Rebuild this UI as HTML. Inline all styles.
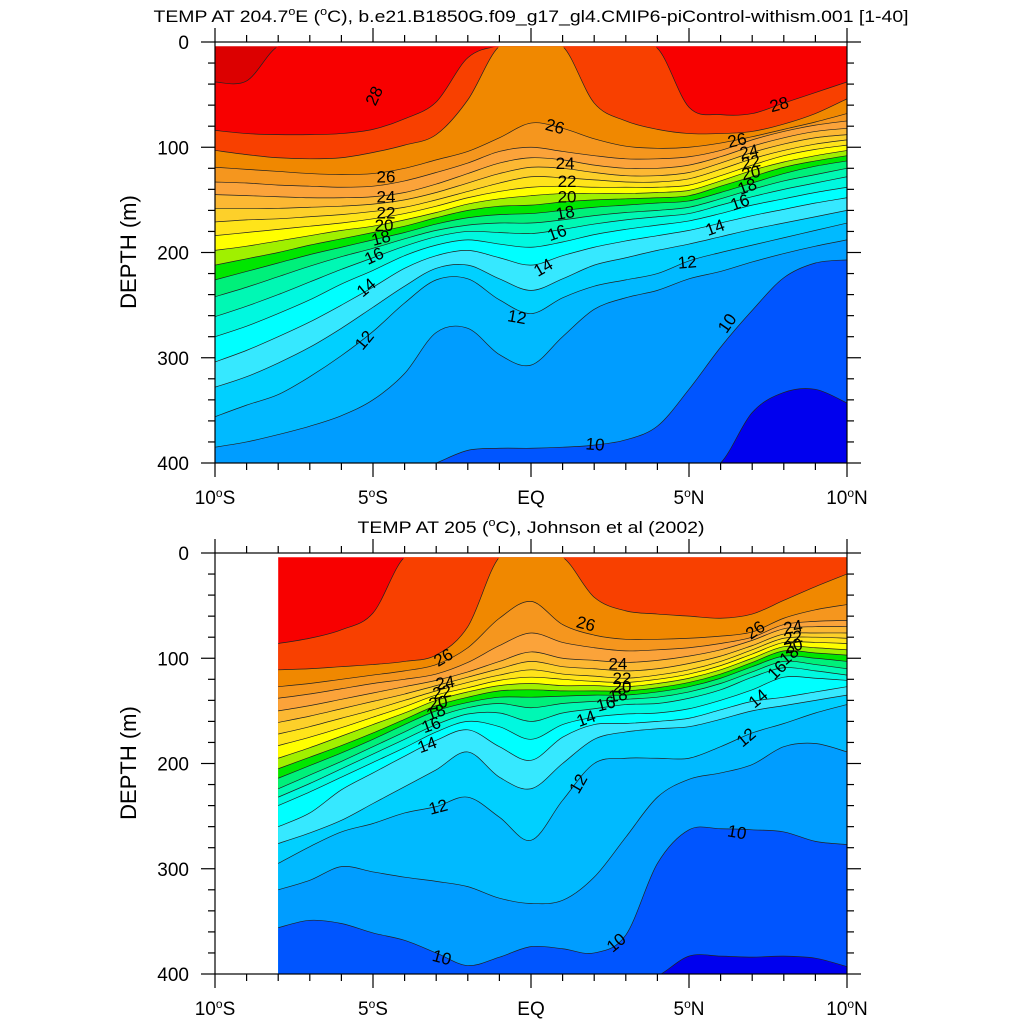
<!DOCTYPE html>
<html><head><meta charset="utf-8">
<style>
body{margin:0;background:#fff}
svg{display:block}
text{font-family:"Liberation Sans",sans-serif;fill:#000}
</style></head>
<body>
<svg id="chart" width="1024" height="1024" xmlns="http://www.w3.org/2000/svg">
  <defs>
    <clipPath id="clipTopFill"><rect x="215" y="46.2" width="632" height="416.8"/></clipPath>
    <clipPath id="clipTopLine"><rect x="215" y="47.6" width="632" height="415.4"/></clipPath>
    <clipPath id="clipBotFill"><rect x="277.2" y="557.2" width="569.8" height="416.8"/></clipPath>
    <clipPath id="clipBotLine"><rect x="277.2" y="558.6" width="569.8" height="415.4"/></clipPath>
  </defs>
  <text x="531" y="22" font-size="17" text-anchor="middle" textLength="755" lengthAdjust="spacingAndGlyphs">TEMP AT 204.7<tspan font-size="11" dy="-7">o</tspan><tspan dy="7">E (</tspan><tspan font-size="11" dy="-7">o</tspan><tspan dy="7">C), b.e21.B1850G.f09_g17_gl4.CMIP6-piControl-withism.001 [1-40]</tspan></text>
  <text x="531" y="533" font-size="17" text-anchor="middle" textLength="347" lengthAdjust="spacingAndGlyphs">TEMP AT 205 (<tspan font-size="11" dy="-7">o</tspan><tspan dy="7">C), Johnson et al (2002)</tspan></text>
  <text transform="translate(136,252) rotate(-90)" font-size="22" text-anchor="middle">DEPTH (m)</text>
  <text transform="translate(136,763) rotate(-90)" font-size="22" text-anchor="middle">DEPTH (m)</text>
  <g id="topPanel"></g>
  <g id="botPanel"></g>
</svg>
<script>
// ---------- data ----------
const topLats = [-10,-9,-8,-7,-6,-5,-4,-3,-2,-1,0,1,2,3,4,5,6,7,8,9,10];
const botLats = [-8,-7,-6,-5,-4,-3,-2,-1,0,1,2,3,4,5,6,7,8,9,10];
const topLevels = [29,28,27,26,25,24,23,22,21,20,19,18,17,16,15,14,13,12,11,10,9];
const botLevels = [28,27,26,25,24,23,22,21,20,19,18,17,16,15,14,13,12,11,10,9];

// isotherm depths (m), top panel (model), lat -10..10
const top29 = [38,37,4,4,4,4,4,4,4,4,4,4,4,4,4,4,4,4,4,4,4];
const top28 = [84,87,88,88,87,83,73,57,15,4,4,4,4,4,6,62,69,68,58,48,38];
const top27 = [103,107,110,111,110,105,98,88,55,4,4,4,58,75,83,87,87,85,78,68,54];
const top26 = [119,121,123,125,126,125,120,112,104,91,77,82,92,99,101,100,96,90,83,76,68];
const top25 = [133,134,136,137,138,137,132,124,115,104,100,104,108,111,111,109,103,93,85,79,75];
const top24 = [145,146,147,148,148,147,143,135,125,115,110,112,117,120,120,117,109,99,91,85,82];
const top23 = [158,158,158,157,156,154,150,143,134,125,119,120,124,127,127,124,115,105,97,91,88];
const top22 = [171,169,168,166,164,161,157,150,142,134,128,129,131,133,133,130,121,111,103,97,93];
const top21 = [184,181,178,175,172,168,163,156,148,142,138,137,138,138,138,136,127,117,108,102,98];
const top20 = [198,194,189,184,179,175,169,162,154,149,146,144,144,144,143,141,132,122,114,108,103];
const top19 = [212,206,200,193,187,181,175,167,160,156,155,152,150,149,148,146,137,128,119,113,108];
const top18 = [226,218,210,202,195,188,181,173,167,164,163,160,157,155,153,151,143,134,125,118,113];
const top17 = [242,233,223,213,204,196,187,179,174,172,172,169,165,162,160,157,149,140,132,126,120];
const top16 = [261,251,240,228,216,205,194,185,180,181,182,178,173,169,166,163,155,147,140,134,128];
const top15 = [280,270,258,245,230,217,203,193,188,192,195,190,183,178,174,170,163,155,149,143,138];
const top14 = [304,293,280,266,250,233,215,203,198,205,212,203,195,189,184,179,172,165,159,153,148];
const top13 = [328,318,305,290,272,252,232,215,212,225,236,225,212,205,198,192,185,178,172,166,160];
const top12 = [356,345,335,318,298,275,248,226,225,245,258,243,232,226,220,208,200,193,186,179,172];
const top11 = [385,380,373,365,355,340,315,276,272,297,307,280,254,243,236,225,218,209,201,194,188];
const top10 = [412,412,412,412,412,412,412,400,388,386,386,385,383,378,365,330,290,255,224,210,207];
const top9  = [412,412,412,412,412,412,412,412,412,412,412,412,412,412,412,412,400,352,333,330,343];

// isotherm depths (m), bottom panel (observations), lat -8..10
const bot28 = [86,81,73,57,4,4,4,4,4,4,4,4,4,4,4,4,4,4,4];
const bot27 = [111,110,108,106,103,97,70,4,4,4,42,55,58,60,62,58,45,32,20];
const bot26 = [127,124,120,116,112,106,90,62,46,68,78,82,82,81,79,75,62,54,49];
const bot25 = [138,134,129,124,120,115,104,88,76,85,90,93,92,90,86,80,68,65,64];
const bot24 = [150,145,139,133,127,121,113,103,94,100,102,104,102,98,92,83,72,70,70];
const bot23 = [161,155,148,141,134,126,118,110,103,108,110,112,110,105,98,88,77,76,76];
const bot22 = [172,165,157,149,140,131,123,116,111,115,117,119,116,111,103,92,81,80,81];
const bot21 = [183,175,166,156,146,135,128,121,118,120,122,123,120,115,107,96,85,85,86];
const bot20 = [195,185,174,163,152,140,132,126,124,126,126,127,124,119,111,100,89,90,92];
const bot19 = [205,194,183,171,158,145,137,131,130,131,131,131,128,123,115,104,93,95,97];
const bot18 = [214,202,190,177,163,150,142,137,137,136,135,135,132,127,119,108,98,100,103];
const bot17 = [224,211,198,184,170,156,147,143,147,143,141,139,137,132,124,113,103,106,110];
const bot16 = [232,219,205,191,177,163,153,152,160,152,148,144,143,138,130,118,109,112,116];
const bot15 = [240,227,213,199,185,170,160,165,177,163,156,153,152,148,140,130,118,119,121];
const bot14 = [260,247,225,209,193,178,168,184,197,175,163,162,160,157,149,141,137,132,127];
const bot13 = [276,266,254,238,222,206,189,213,224,200,177,170,167,165,158,150,145,140,135];
const bot12 = [295,279,265,257,247,241,232,251,273,235,200,195,195,195,184,171,162,152,144];
const bot11 = [320,311,298,303,308,312,317,328,333,330,308,270,232,215,209,201,184,181,189];
const bot10 = [356,349,352,361,368,380,392,384,374,376,380,363,295,263,262,263,265,274,277];
const bot9  = [412,412,412,412,412,412,412,412,412,412,412,412,402,383,383,384,383,385,393];

const topIsotherms = [top29,top28,top27,top26,top25,top24,top23,top22,top21,top20,top19,top18,top17,top16,top15,top14,top13,top12,top11,top10,top9];
const botIsotherms = [bot28,bot27,bot26,bot25,bot24,bot23,bot22,bot21,bot20,bot19,bot18,bot17,bot16,bot15,bot14,bot13,bot12,bot11,bot10,bot9];

// contour labels
const topLabelTexts  = ['28','28','26','26','26','24','24','24','22','22','22','20','20','20','18','18','18','16','16','16','14','14','14','12','12','12','10','10'];
const topLabelLats   = [-4.97,7.85,0.76,-4.59,6.52,-4.59,1.08,6.9,-4.59,1.14,6.96,-4.65,1.14,6.96,-4.75,1.08,6.84,-4.97,0.82,6.61,-5.22,0.38,5.82,-5.28,-0.44,4.94,6.2,2.03];
const topLabelDepths = [51,59,80,128,93,147,115,104,162,132,114,174,147,124,186,162,137,203,181,152,233,214,176,283,261,209,267,382];
const topLabelAngles = [-65,-15,15,0,-12,0,0,-12,0,0,-12,0,0,-12,-15,-10,-20,-25,-20,-20,-40,-30,-20,-50,10,-5,-55,5];

const botLabelTexts  = ['26','26','26','24','22','20','18','16','14','12','24','22','20','18','16','14','24','22','20','18','16','14','12','12','10','10','10'];
const botLabelLats   = [-2.78,1.74,7.09,8.29,8.29,8.29,8.16,7.78,7.18,6.8,-2.72,-2.82,-2.94,-3.01,-3.16,-3.29,2.75,2.88,2.88,2.75,2.37,1.74,-2.94,1.49,6.52,-2.82,2.69];
const botLabelDepths = [99,67,73,70,80,88,97,111,138,175,123,132,142,151,163,182,105,119,127,135,143,157,241,219,265,384,370];
const botLabelAngles = [-30,15,-35,-10,-10,-15,-40,-45,-40,-40,-10,-10,-10,-20,-20,-20,0,0,0,-10,-15,-20,-15,-60,10,15,-40];

const depthTicks = [0,100,200,300,400];
const latTicks = [-10,-5,0,5,10];
const latTickText = ['10','5','EQ','5','10'];
const latTickHemi = ['S','S','','N','N'];

// ---------- styling ----------
const colorBelow = {29:'#f80000',28:'#f84000',27:'#f08800',26:'#f5961e',25:'#fba33a',24:'#fcb833',23:'#fdd02a',22:'#ffe41a',21:'#ffff00',20:'#a0f000',19:'#00e600',18:'#00f07a',17:'#00f8b4',16:'#00f8e0',15:'#00ffff',14:'#36e8ff',13:'#00d0ff',12:'#00baff',11:'#009dff',10:'#0055ff',9:'#0000ee'};
const colorAbove = {29:'#dc0000',28:'#f80000'};
const NS='http://www.w3.org/2000/svg';
const X0=215, XW=31.6, DY=1.0525;
function xOf(lat){return X0+(lat+10)*XW;}
function mk(tag,attrs,parent){const e=document.createElementNS(NS,tag);for(const k in attrs)e.setAttribute(k,attrs[k]);parent.appendChild(e);return e;}

function curvePath(xs,ys){
  const n=xs.length;let d='M'+xs[0].toFixed(2)+','+ys[0].toFixed(2);
  for(let i=0;i<n-1;i++){
    const p0=i>0?i-1:i, p3=i+2<n?i+2:i+1;
    const c1x=xs[i]+(xs[i+1]-xs[p0])/6, c1y=ys[i]+(ys[i+1]-ys[p0])/6;
    const c2x=xs[i+1]-(xs[p3]-xs[i])/6, c2y=ys[i+1]-(ys[p3]-ys[i])/6;
    d+=' C'+c1x.toFixed(2)+','+c1y.toFixed(2)+' '+c2x.toFixed(2)+','+c2y.toFixed(2)+' '+xs[i+1].toFixed(2)+','+ys[i+1].toFixed(2);
  }
  return d;
}

function drawPanel(g,y0,lats,levels,isos,fillClip,lineClip,lt,ll,ld,la,prefix){
  const yOf=d=>y0+d*DY;
  const xs=lats.map(xOf);
  const yBot=yOf(400)+30;
  const fills=mk('g',{'clip-path':'url(#'+fillClip+')'},g);
  
  
  const bg=mk('rect',{x:xs[0],y:y0,width:xs[xs.length-1]-xs[0],height:420,fill:colorAbove[levels[0]]},fills);
  
  
  const lines=mk('g',{'clip-path':'url(#'+lineClip+')',fill:'none',stroke:'#222',"stroke-width":'0.7'},g);
  
  
  levels.forEach((T,k)=>{
    const ys=isos[k].map(yOf);
    const c=curvePath(xs,ys);
    const f=mk('path',{d:'M'+xs[0]+','+yBot+' L'+c.slice(1)+' L'+xs[xs.length-1]+','+yBot+' Z',fill:colorBelow[T]},fills);
    
    
    const l=mk('path',{d:c},lines);
    
    
  });
  const labs=mk('g',{'font-size':'17','text-anchor':'middle'},g);
  
  
  lt.forEach((t,i)=>{
    const x=xOf(ll[i]), y=yOf(ld[i]);
    const tx=mk('text',{x:x,y:y+6,transform:'rotate('+la[i]+' '+x+' '+y+')'},labs);
    tx.textContent=t;
    
    
  });
  // frame
  const ax=mk('g',{stroke:'#000','stroke-width':'1.2',fill:'none'},g);
  
  
  const xL=xOf(-10), xR=xOf(10), yT=yOf(0), yB=yOf(400);
  mk('rect',{x:xL,y:yT,width:xR-xL,height:yB-yT},ax);
  for(let d=0;d<=400;d+=20){
    const len=d%100===0?14:7, y=yOf(d);
    mk('line',{x1:xL-len,y1:y,x2:xL,y2:y},ax);
    mk('line',{x1:xR,y1:y,x2:xR+len,y2:y},ax);
  }
  for(let lat=-10;lat<=10;lat++){
    const len=lat%5===0?14:7, x=xOf(lat);
    mk('line',{x1:x,y1:yT-len,x2:x,y2:yT},ax);
    mk('line',{x1:x,y1:yB,x2:x,y2:yB+len},ax);
  }
  depthTicks.forEach(d=>{
    const t=mk('text',{x:189,y:yOf(d)+7,'font-size':'19','text-anchor':'end'},g);
    t.textContent=String(d);
    
    
  });
  latTicks.forEach((lat,i)=>{
    const t=mk('text',{x:xOf(lat),y:yB+41,'font-size':'19','text-anchor':'middle'},g);
    if(latTickHemi[i]){
      const a=mk('tspan',{},t);a.textContent=latTickText[i];
      const o=mk('tspan',{'font-size':'12',dy:'-7'},t);o.textContent='o';
      const h=mk('tspan',{dy:'7'},t);h.textContent=latTickHemi[i];
    } else t.textContent=latTickText[i];
    
    
  });
}

drawPanel(document.getElementById('topPanel'),42,topLats,topLevels,topIsotherms,'clipTopFill','clipTopLine',topLabelTexts,topLabelLats,topLabelDepths,topLabelAngles,'top');
drawPanel(document.getElementById('botPanel'),553,botLats,botLevels,botIsotherms,'clipBotFill','clipBotLine',botLabelTexts,botLabelLats,botLabelDepths,botLabelAngles,'bottom');
</script>
</body></html>
